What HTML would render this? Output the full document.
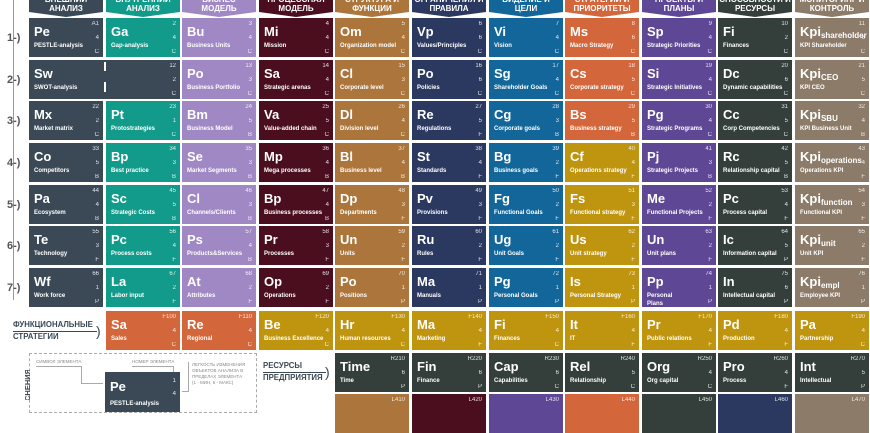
<!DOCTYPE html>
<html><head><meta charset="utf-8"><style>
*{margin:0;padding:0;box-sizing:border-box}
body{width:870px;height:400px;overflow:hidden;background:#fff;position:relative;font-family:"Liberation Sans",sans-serif;color:#fff}
.c{position:absolute;width:74px;height:39px;overflow:hidden}
.c b{position:absolute;left:5px;top:7px;font-size:13px;line-height:14px;font-weight:bold;white-space:nowrap}
.c b sub{font-size:8px;vertical-align:-2px}
.c em{position:absolute;left:5px;top:24px;font-size:6px;font-style:normal;font-weight:bold;white-space:nowrap;line-height:8px}
.c i,.c u,.c s{position:absolute;right:4px;font-size:6px;font-style:normal;text-decoration:none;line-height:7px;opacity:.85}
.c i{top:3px}.c u{top:17px}.c s{top:31px}
.x1{left:29px;background:#3a4955}.x2{left:106px;background:#129b8b}.x3{left:182px;background:#9f88c4}.x4{left:259px;background:#4a0e1e}.x5{left:335px;background:#ab753c}.x6{left:412px;background:#2b385f}.x7{left:489px;background:#136699}.x8{left:565px;background:#d3673b}.x9{left:642px;background:#5e4795}.x10{left:718px;background:#343f3b}.x11{left:795px;background:#8b7b68}
.y1{top:18px}.y2{top:60px}.y3{top:101px}.y4{top:143px}.y5{top:185px}.y6{top:226px}.y7{top:268px}.yf{top:311px}.yr{top:353px}.yb{top:394px}
.g{background:#bf940e}.o{background:#d3673b}.dk{background:#343f3b}
.h{position:absolute;top:0;width:74px;height:17px;clip-path:polygon(0 0,100% 0,100% 12px,50% 17px,0 12px);font-size:8px;font-weight:bold;text-align:center;line-height:9px}
.h span{display:block;margin-top:-5px}
.rn{position:absolute;left:7px;font-size:11px;font-weight:bold;color:#555}
.lbl{position:absolute;color:#3a4955;font-weight:bold;font-size:7.8px;line-height:12px}
.sm{position:absolute;color:#888;font-size:4.5px;line-height:6px}
</style></head><body>
<div class="h x1"><span>ВНЕШНИЙ<br>АНАЛИЗ</span></div>
<div class="h x2"><span>ВНУТРЕННИЙ<br>АНАЛИЗ</span></div>
<div class="h x3"><span>БИЗНЕС<br>МОДЕЛЬ</span></div>
<div class="h x4"><span>ПРОЦЕССНАЯ<br>МОДЕЛЬ</span></div>
<div class="h x5"><span>СТРУКТУРА И<br>ФУНКЦИИ</span></div>
<div class="h x6"><span>ОГРАНИЧЕНИЯ И<br>ПРАВИЛА</span></div>
<div class="h x7"><span>ВИДЕНИЕ И<br>ЦЕЛИ</span></div>
<div class="h x8"><span>СТРАТЕГИИ И<br>ПРИОРИТЕТЫ</span></div>
<div class="h x9"><span>ПРОЕКТЫ И<br>ПЛАНЫ</span></div>
<div class="h x10"><span>СПОСОБНОСТИ И<br>РЕСУРСЫ</span></div>
<div class="h x11"><span>МОНИТОРИНГ И<br>КОНТРОЛЬ</span></div>

<div style="position:absolute;left:13px;top:0;width:1px;height:300px;background:#999"></div>
<div class="rn" style="top:32px">1-)</div><div class="rn" style="top:74px">2-)</div><div class="rn" style="top:115px">3-)</div><div class="rn" style="top:157px">4-)</div><div class="rn" style="top:199px">5-)</div><div class="rn" style="top:240px">6-)</div><div class="rn" style="top:282px">7-)</div>

<div class="c x1 y1"><b>Pe</b><em>PESTLE-analysis</em><i>A1</i><u>4</u><s>C</s></div>
<div class="c x2 y1"><b>Ga</b><em>Gap-analysis</em><i>2</i><u>4</u><s>C</s></div>
<div class="c x3 y1"><b>Bu</b><em>Business Units</em><i>3</i><u>4</u><s>C</s></div>
<div class="c x4 y1"><b>Mi</b><em>Mission</em><i>4</i><u>4</u><s>C</s></div>
<div class="c x5 y1"><b>Om</b><em>Organization model</em><i>5</i><u>4</u><s>C</s></div>
<div class="c x6 y1"><b>Vp</b><em>Values/Principles</em><i>6</i><u>6</u><s>C</s></div>
<div class="c x7 y1"><b>Vi</b><em>Vision</em><i>7</i><u>4</u><s>C</s></div>
<div class="c x8 y1"><b>Ms</b><em>Macro Strategy</em><i>8</i><u>6</u><s>C</s></div>
<div class="c x9 y1"><b>Sp</b><em>Strategic Priorities</em><i>9</i><u>4</u><s>C</s></div>
<div class="c x10 y1"><b>Fi</b><em>Finances</em><i>10</i><u>2</u><s>C</s></div>
<div class="c x11 y1"><b>Kpi<sub>shareholder</sub></b><em>KPI Shareholder</em><i>11</i><u>6</u><s>C</s></div>

<div class="c x1 y2" style="width:151px"><b>Sw</b><em>SWOT-analysis</em><i>12</i><u>2</u><s>C</s></div>
<div style="position:absolute;left:104px;top:62px;width:2px;height:9px;background:#fff"></div>
<div style="position:absolute;left:104px;top:82px;width:2px;height:10px;background:#fff"></div>
<div class="c x3 y2"><b>Po</b><em>Business Portfolio</em><i>13</i><u>3</u><s>C</s></div>
<div class="c x4 y2"><b>Sa</b><em>Strategic arenas</em><i>14</i><u>4</u><s>C</s></div>
<div class="c x5 y2"><b>Cl</b><em>Corporate level</em><i>15</i><u>3</u><s>C</s></div>
<div class="c x6 y2"><b>Po</b><em>Policies</em><i>16</i><u>6</u><s>C</s></div>
<div class="c x7 y2"><b>Sg</b><em>Shareholder Goals</em><i>17</i><u>4</u><s>C</s></div>
<div class="c x8 y2"><b>Cs</b><em>Corporate strategy</em><i>18</i><u>5</u><s>C</s></div>
<div class="c x9 y2"><b>Si</b><em>Strategic Initiatives</em><i>19</i><u>4</u><s>C</s></div>
<div class="c x10 y2"><b>Dc</b><em>Dynamic capabilities</em><i>20</i><u>6</u><s>C</s></div>
<div class="c x11 y2"><b>Kpi<sub>CEO</sub></b><em>KPI CEO</em><i>21</i><u>5</u><s>C</s></div>

<div class="c x1 y3"><b>Mx</b><em>Market matrix</em><i>22</i><u>2</u><s>C</s></div>
<div class="c x2 y3"><b>Pt</b><em>Protostrategies</em><i>23</i><u>1</u><s>C</s></div>
<div class="c x3 y3"><b>Bm</b><em>Business Model</em><i>24</i><u>5</u><s>B</s></div>
<div class="c x4 y3"><b>Va</b><em>Value-added chain</em><i>25</i><u>5</u><s>C</s></div>
<div class="c x5 y3"><b>Dl</b><em>Division level</em><i>26</i><u>4</u><s>C</s></div>
<div class="c x6 y3"><b>Re</b><em>Regulations</em><i>27</i><u>5</u><s>F</s></div>
<div class="c x7 y3"><b>Cg</b><em>Corporate goals</em><i>28</i><u>3</u><s>B</s></div>
<div class="c x8 y3"><b>Bs</b><em>Business strategy</em><i>29</i><u>5</u><s>B</s></div>
<div class="c x9 y3"><b>Pg</b><em>Strategic Programs</em><i>30</i><u>4</u><s>C</s></div>
<div class="c x10 y3"><b>Cc</b><em>Corp Competencies</em><i>31</i><u>5</u><s>C</s></div>
<div class="c x11 y3"><b>Kpi<sub>SBU</sub></b><em>KPI Business Unit</em><i>32</i><u>4</u><s>B</s></div>

<div class="c x1 y4"><b>Co</b><em>Competitors</em><i>33</i><u>5</u><s>B</s></div>
<div class="c x2 y4"><b>Bp</b><em>Best practice</em><i>34</i><u>3</u><s>B</s></div>
<div class="c x3 y4"><b>Se</b><em>Market Segments</em><i>35</i><u>3</u><s>B</s></div>
<div class="c x4 y4"><b>Mp</b><em>Mega processes</em><i>36</i><u>4</u><s>B</s></div>
<div class="c x5 y4"><b>Bl</b><em>Business level</em><i>37</i><u>4</u><s>B</s></div>
<div class="c x6 y4"><b>St</b><em>Standards</em><i>38</i><u>4</u><s>F</s></div>
<div class="c x7 y4"><b>Bg</b><em>Business goals</em><i>39</i><u>2</u><s>F</s></div>
<div class="c x8 y4 g"><b>Cf</b><em>Operations strategy</em><i>40</i><u>4</u><s>F</s></div>
<div class="c x9 y4"><b>Pj</b><em>Strategic Projects</em><i>41</i><u>3</u><s>B</s></div>
<div class="c x10 y4"><b>Rc</b><em>Relationship capital</em><i>42</i><u>5</u><s>B</s></div>
<div class="c x11 y4"><b>Kpi<sub>operations</sub></b><em>Operations KPI</em><i>43</i><u>4</u><s>F</s></div>

<div class="c x1 y5"><b>Pa</b><em>Ecosystem</em><i>44</i><u>4</u><s>B</s></div>
<div class="c x2 y5"><b>Sc</b><em>Strategic Costs</em><i>45</i><u>5</u><s>B</s></div>
<div class="c x3 y5"><b>Cl</b><em>Channels/Clients</em><i>46</i><u>3</u><s>B</s></div>
<div class="c x4 y5"><b>Bp</b><em>Business processes</em><i>47</i><u>4</u><s>B</s></div>
<div class="c x5 y5"><b>Dp</b><em>Departments</em><i>48</i><u>3</u><s>F</s></div>
<div class="c x6 y5"><b>Pv</b><em>Provisions</em><i>49</i><u>3</u><s>F</s></div>
<div class="c x7 y5"><b>Fg</b><em>Functional Goals</em><i>50</i><u>2</u><s>F</s></div>
<div class="c x8 y5 g"><b>Fs</b><em>Functional strategy</em><i>51</i><u>3</u><s>F</s></div>
<div class="c x9 y5"><b>Me</b><em>Functional Projects</em><i>52</i><u>2</u><s>F</s></div>
<div class="c x10 y5"><b>Pc</b><em>Process capital</em><i>53</i><u>4</u><s>F</s></div>
<div class="c x11 y5"><b>Kpi<sub>function</sub></b><em>Functional KPI</em><i>54</i><u>3</u><s>F</s></div>

<div class="c x1 y6"><b>Te</b><em>Technology</em><i>55</i><u>3</u><s>F</s></div>
<div class="c x2 y6"><b>Pc</b><em>Process costs</em><i>56</i><u>4</u><s>F</s></div>
<div class="c x3 y6"><b>Ps</b><em>Products&amp;Services</em><i>57</i><u>4</u><s>B</s></div>
<div class="c x4 y6"><b>Pr</b><em>Processes</em><i>58</i><u>3</u><s>F</s></div>
<div class="c x5 y6"><b>Un</b><em>Units</em><i>59</i><u>2</u><s>F</s></div>
<div class="c x6 y6"><b>Ru</b><em>Rules</em><i>60</i><u>2</u><s>F</s></div>
<div class="c x7 y6"><b>Ug</b><em>Unit Goals</em><i>61</i><u>2</u><s>F</s></div>
<div class="c x8 y6 g"><b>Us</b><em>Unit strategy</em><i>62</i><u>2</u><s>F</s></div>
<div class="c x9 y6"><b>Un</b><em>Unit plans</em><i>63</i><u>2</u><s>F</s></div>
<div class="c x10 y6"><b>Ic</b><em>Information capital</em><i>64</i><u>5</u><s>P</s></div>
<div class="c x11 y6"><b>Kpi<sub>unit</sub></b><em>Unit KPI</em><i>65</i><u>2</u><s>F</s></div>

<div class="c x1 y7"><b>Wf</b><em>Work force</em><i>66</i><u>1</u><s>P</s></div>
<div class="c x2 y7"><b>La</b><em>Labor input</em><i>67</i><u>2</u><s>F</s></div>
<div class="c x3 y7"><b>At</b><em>Attributes</em><i>68</i><u>2</u><s>F</s></div>
<div class="c x4 y7"><b>Op</b><em>Operations</em><i>69</i><u>2</u><s>F</s></div>
<div class="c x5 y7"><b>Po</b><em>Positions</em><i>70</i><u>1</u><s>P</s></div>
<div class="c x6 y7"><b>Ma</b><em>Manuals</em><i>71</i><u>1</u><s>P</s></div>
<div class="c x7 y7"><b>Pg</b><em>Personal Goals</em><i>72</i><u>1</u><s>P</s></div>
<div class="c x8 y7 g"><b>Is</b><em>Personal Strategy</em><i>73</i><u>1</u><s>P</s></div>
<div class="c x9 y7"><b>Pp</b><em>Personal<br>Plans</em><i>74</i><u>1</u><s>P</s></div>
<div class="c x10 y7"><b>In</b><em>Intellectual capital</em><i>75</i><u>6</u><s>P</s></div>
<div class="c x11 y7"><b>Kpi<sub>empl</sub></b><em>Employee KPI</em><i>76</i><u>1</u><s>P</s></div>

<div class="lbl" style="left:13px;top:319px">ФУНКЦИОНАЛЬНЫЕ<br>СТРАТЕГИИ</div>
<div style="position:absolute;left:13px;top:331px;width:84px;height:1px;background:#3a4955"></div>
<div style="position:absolute;left:96px;top:323px;color:#3a4955;font-size:14px">)</div>
<div class="c x2 yf o"><b>Sa</b><em>Sales</em><i>F100</i><u>4</u><s>C</s></div>
<div class="c x3 yf o"><b>Re</b><em>Regional</em><i>F110</i><u>4</u><s>C</s></div>
<div class="c x4 yf g"><b>Be</b><em>Business Excellence</em><i>F120</i><u>4</u><s>C</s></div>
<div class="c x5 yf g"><b>Hr</b><em>Human resources</em><i>F130</i><u>4</u><s>C</s></div>
<div class="c x6 yf g"><b>Ma</b><em>Marketing</em><i>F140</i><u>4</u><s>F</s></div>
<div class="c x7 yf g"><b>Fi</b><em>Finances</em><i>F150</i><u>4</u><s>C</s></div>
<div class="c x8 yf g"><b>It</b><em>IT</em><i>F160</i><u>4</u><s>F</s></div>
<div class="c x9 yf g"><b>Pr</b><em>Public relations</em><i>F170</i><u>4</u><s>F</s></div>
<div class="c x10 yf g"><b>Pd</b><em>Production</em><i>F180</i><u>4</u><s>F</s></div>
<div class="c x11 yf g"><b>Pa</b><em>Partnership</em><i>F190</i><u>4</u><s>C</s></div>

<div class="lbl" style="left:263px;top:360px">РЕСУРСЫ<br>ПРЕДПРИЯТИЯ</div>
<div style="position:absolute;left:263px;top:372px;width:63px;height:1px;background:#3a4955"></div>
<div style="position:absolute;left:325px;top:364px;color:#3a4955;font-size:14px">)</div>
<div class="c x5 yr dk"><b>Time</b><em>Time</em><i>R210</i><u>6</u><s>P</s></div>
<div class="c x6 yr dk"><b>Fin</b><em>Finance</em><i>R220</i><u>6</u><s>P</s></div>
<div class="c x7 yr dk"><b>Cap</b><em>Capabilities</em><i>R230</i><u>6</u><s>C</s></div>
<div class="c x8 yr dk"><b>Rel</b><em>Relationship</em><i>R240</i><u>5</u><s>C</s></div>
<div class="c x9 yr dk"><b>Org</b><em>Org capital</em><i>R250</i><u>4</u><s>C</s></div>
<div class="c x10 yr dk"><b>Pro</b><em>Process</em><i>R260</i><u>4</u><s>F</s></div>
<div class="c x11 yr dk"><b>Int</b><em>Intellectual</em><i>R270</i><u>5</u><s>P</s></div>

<div class="c x5 yb"><i>L410</i></div>
<div class="c x6 yb" style="background:#4a0e1e"><i>L420</i></div>
<div class="c x7 yb" style="background:#5e4795"><i>L430</i></div>
<div class="c x8 yb"><i>L440</i></div>
<div class="c x9 yb dk"><i>L450</i></div>
<div class="c x10 yb" style="background:#2b385f"><i>L460</i></div>
<div class="c x11 yb"><i>L470</i></div>

<div style="position:absolute;left:29px;top:353px;width:228px;height:60px;border:1px dashed #aaa"></div>
<div style="position:absolute;left:22px;top:370px;width:14px;height:30px;overflow:hidden"><div style="transform:rotate(-90deg);transform-origin:0 0;position:absolute;left:1px;top:31px;color:#3a4955;font-weight:bold;font-size:7.5px;white-space:nowrap">СНЕНИЯ</div></div>
<div class="sm" style="left:36px;top:359px">СИМВОЛ ЭЛЕМЕНТА</div>
<div class="sm" style="left:132px;top:359px">НОМЕР ЭЛЕМЕНТА</div>
<div style="position:absolute;left:36px;top:366px;width:46px;height:1px;background:#aaa"></div>
<div style="position:absolute;left:81px;top:366px;width:1px;height:17px;background:#aaa"></div>
<div style="position:absolute;left:81px;top:383px;width:22px;height:1px;background:#aaa"></div>
<div style="position:absolute;left:132px;top:366px;width:41px;height:1px;background:#aaa"></div>
<div style="position:absolute;left:173px;top:366px;width:1px;height:6px;background:#aaa"></div>
<div class="sm" style="left:192px;top:362px">ЛЕГКОСТЬ ИЗМЕНЕНИЯ<br>ОБЪЕКТОВ АНАЛИЗА В<br>ПРЕДЕЛАХ ЭЛЕМЕНТА<br>(1 - МИН, 6 - МАКС)</div>
<div style="position:absolute;left:188px;top:362px;width:1px;height:30px;background:#aaa"></div>
<div style="position:absolute;left:182px;top:391px;width:7px;height:1px;background:#aaa"></div>
<div class="c" style="left:105px;top:372px;width:75px;height:40px;background:#3a4955"><b style="top:8px">Pe</b><em style="top:28px">PESTLE-analysis</em><i style="top:6px">1</i><u style="top:19px">4</u></div>
</body></html>
